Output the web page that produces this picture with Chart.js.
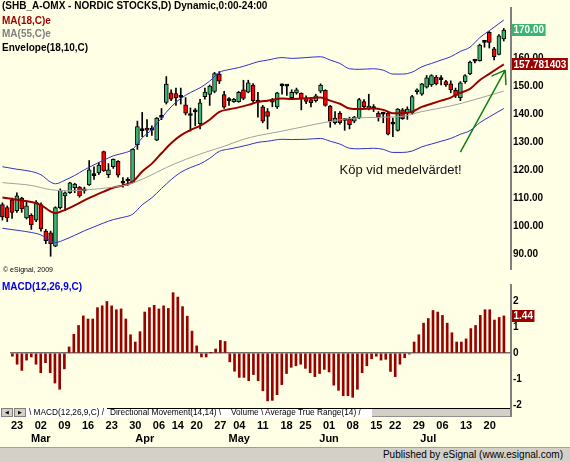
<!DOCTYPE html>
<html>
<head>
<meta charset="utf-8">
<title>SHB_A-OMX</title>
<script src="https://cdn.jsdelivr.net/npm/chart.js@4.4.1/dist/chart.umd.min.js"></script>
<style>
html, body { margin: 0; padding: 0; }
body { width: 570px; height: 462px; overflow: hidden; position: relative; background: #FFFFE6; font-family: "Liberation Sans", Arial, sans-serif; }
canvas { position: absolute; left: 0; }
#priceChart { top: 0; }
#macdChart { top: 277px; }
.lbl { position: absolute; left: 2px; white-space: nowrap; font-size: 10px; font-weight: bold; line-height: 12px; z-index: 2; }
#copy { position: absolute; left: 3px; top: 266px; font-size: 7px; line-height: 8px; z-index: 2; white-space: nowrap; }
#tabs { position: absolute; left: 0; top: 408px; width: 511px; height: 9px; background: #FFFFFF; z-index: 3; font-size: 8.3px; line-height: 9px; }
#tabs span { position: absolute; top: 0; white-space: nowrap; }
#tabs .btn { width: 12px; height: 9px; box-sizing: border-box; background: #D4D0C8; border: 1px solid #808080; font-family: "DejaVu Sans"; font-size: 5px; line-height: 7px; text-align: center; }
#tabs .topline { top: 0; height: 0; border-top: 1px solid #000; }
#tabs .fill { height: 9px; box-sizing: border-box; background: #D4D0C8; border-top: 1px solid #000; border-bottom: 1px solid #909090; }
#axisStub { position: absolute; left: 510px; top: 405px; width: 2px; height: 12px; background: #808080; z-index: 4; }
#status { position: absolute; left: 0; top: 447px; width: 570px; height: 15px; box-sizing: border-box; background: #D4D0C8; border-top: 1px solid #A0A0A0; font-size: 10px; line-height: 14px; text-align: right; padding-right: 7px; z-index: 3; }
</style>
</head>
<body>
<canvas id="priceChart" width="570" height="277"></canvas>
<canvas id="macdChart" width="570" height="170"></canvas>

<div class="lbl" style="top:0px;color:#000">(SHB_A-OMX - NORDIC STOCKS,D) Dynamic,0:00-24:00</div>
<div class="lbl" style="top:14.5px;color:#990000">MA(18,C)e</div>
<div class="lbl" style="top:28px;color:#808080">MA(55,C)e</div>
<div class="lbl" style="top:41.5px;color:#000">Envelope(18,10,C)</div>
<div id="copy">© eSignal, 2009</div>
<div class="lbl" style="top:281px;color:#0000E6">MACD(12,26,9,C)</div>

<div id="tabs">
  <span class="btn" style="left:1px">◀</span>
  <span class="btn" style="left:14px">▶</span>
  <span style="left:29px">\ MACD(12,26,9,C) /</span>
  <span class="topline" style="left:107px;width:265px"></span>
  <span style="left:110px">Directional Movement(14,14) \</span>
  <span style="left:231px">Volume \</span>
  <span style="left:265px">Average True Range(14) /</span>
  <span class="fill" style="left:372px;width:139px"></span>
</div>
<div id="axisStub"></div>
<div id="status">Published by eSignal (www.esignal.com)</div>

<script>
// handelsdagar feb-jul 2009
const dates = [
  '02-20','02-23','02-24','02-25','02-26','02-27',
  '03-02','03-03','03-04','03-05','03-06',
  '03-09','03-10','03-11','03-12','03-13',
  '03-16','03-17','03-18','03-19','03-20',
  '03-23','03-24','03-25','03-26','03-27',
  '03-30','03-31','04-01','04-02','04-03',
  '04-06','04-07','04-08','04-09',
  '04-14','04-15','04-16','04-17',
  '04-20','04-21','04-22','04-23','04-24',
  '04-27','04-28','04-29','04-30',
  '05-04','05-05','05-06','05-07','05-08',
  '05-11','05-12','05-13','05-14','05-15',
  '05-18','05-19','05-20','05-22',
  '05-25','05-26','05-27','05-28','05-29',
  '06-01','06-02','06-03','06-04','06-05',
  '06-08','06-09','06-10','06-11','06-12',
  '06-15','06-16','06-17','06-18',
  '06-22','06-23','06-24','06-25','06-26',
  '06-29','06-30','07-01','07-02','07-03',
  '07-06','07-07','07-08','07-09','07-10',
  '07-13','07-14','07-15','07-16','07-17',
  '07-20','07-21','07-22','07-23'
];

const opens = [107.7,106.6,109.4,105.5,110.0,102.9,103.8,102.1,107.7,98.2,
  97.6,92.8,106.6,110.8,111.9,113.7,113.9,113.2,114.7,118.0,
  119.0,126.6,118.4,121.2,123.1,115.3,116.1,115.6,129.1,134.1,
  135.0,134.3,130.7,138.8,144.2,147.6,147.3,146.0,143.3,139.5,
  140.8,136.6,146.2,147.0,148.1,154.3,147.0,144.8,144.4,144.4,
  148.7,147.8,150.4,144.3,142.6,140.9,145.2,142.6,150.1,150.0,
  145.9,147.6,147.4,145.8,145.2,144.8,148.2,148.5,142.9,136.9,
  140.3,137.7,138.4,137.5,138.6,144.5,142.0,142.0,140.3,140.0,
  140.3,136.4,134.2,141.5,140.3,140.3,148.0,147.1,149.6,150.4,
  153.2,152.3,151.6,150.8,148.5,145.9,151.6,154.4,158.9,159.1,
  165.6,169.2,163.3,161.3,166.9];
const highs = [108.3,107.2,110.0,111.9,110.3,108.5,104.4,109.1,108.3,98.8,
  98.2,106.9,113.3,112.2,115.6,115.3,114.1,113.9,123.4,121.2,
  122.7,126.8,122.3,124.0,123.4,117.3,117.3,127.6,137.5,140.6,
  138.0,135.8,138.8,142.0,153.4,148.7,149.3,149.3,145.9,142.2,
  142.0,145.3,149.3,150.4,154.9,155.2,148.1,145.9,145.6,148.1,
  152.1,152.1,150.9,147.8,143.1,142.0,145.6,147.8,150.8,150.4,
  148.7,149.3,147.6,146.5,145.9,147.1,150.8,148.7,143.1,140.9,
  140.9,138.4,138.9,139.2,145.6,145.2,147.1,143.4,140.9,140.7,
  140.9,138.6,142.0,142.0,142.6,146.7,149.0,151.0,153.8,154.1,
  153.8,153.8,152.1,151.9,149.3,151.6,154.1,158.9,159.4,165.0,
  166.1,169.5,163.9,168.4,170.6];
const lows = [102.1,101.6,102.7,104.9,104.9,102.5,98.8,101.6,98.2,93.7,
  89.2,92.6,106.1,105.5,111.7,111.9,110.3,111.7,114.5,116.7,
  118.4,119.5,117.3,120.6,117.5,113.9,114.5,115.4,127.4,131.9,
  131.9,132.4,130.5,138.0,143.6,144.8,143.1,143.6,139.7,133.9,
  135.8,134.7,145.3,143.1,147.6,150.9,142.0,143.1,144.2,144.2,
  145.1,147.6,144.2,138.9,136.9,134.7,142.6,142.0,147.1,146.7,
  145.4,147.1,141.5,143.7,142.6,144.3,147.6,142.8,135.3,136.4,
  136.4,134.2,134.7,136.9,138.4,142.0,141.5,140.9,137.5,136.9,
  132.6,131.9,133.9,138.1,138.1,140.0,147.1,146.7,149.3,149.9,
  150.4,150.4,149.9,147.6,145.9,144.8,151.0,154.1,158.3,158.9,
  163.9,163.6,159.4,161.1,166.1];
const closes = [103.3,102.9,104.9,110.8,106.1,107.2,100.4,108.6,99.0,94.8,
  93.7,106.6,112.8,111.9,115.4,115.0,110.8,112.6,120.1,118.0,
  121.8,119.7,120.1,123.8,118.2,115.3,116.1,127.4,135.5,134.1,
  134.3,134.3,138.6,138.8,150.7,145.3,145.9,146.0,140.3,139.5,
  140.8,144.0,147.9,150.0,154.5,151.8,142.5,144.8,145.3,147.8,
  145.6,151.2,144.8,144.3,137.5,139.2,144.3,147.6,150.1,150.0,
  147.8,148.7,145.6,144.5,144.1,146.5,150.4,143.1,137.5,138.6,
  136.9,137.7,136.2,138.9,145.2,142.6,142.9,142.0,138.9,140.0,
  132.8,136.4,141.8,138.4,141.8,146.3,148.3,150.8,153.0,153.8,
  150.8,152.3,150.4,148.7,146.7,151.2,153.8,158.6,158.9,164.7,
  165.6,165.6,160.5,168.0,170.0];

// avlästa punkter [dagindex, värde]
const ma18Pts = [[0,110.2],[3,109.4],[6,108.6],[8,107.5],[10,105.2],[11,104.6],[13,105.8],[15,107.4],[17,109.2],[19,110.8],
  [21,112.3],[23,113.7],[25,114.5],[27,115.8],[29,119.5],[31,122.3],[33,126.0],[35,129.6],[37,132.4],[39,134.3],
  [41,135.8],[43,138.0],[45,140.8],[47,141.7],[49,142.4],[51,143.3],[53,144.3],[55,144.8],[58,145.6],[60,145.4],
  [63,145.6],[66,145.9],[68,144.8],[70,143.7],[72,142.0],[74,141.8],[77,142.0],[79,141.5],[81,140.3],[83,140.3],
  [85,140.9],[87,142.6],[89,143.7],[91,144.8],[93,145.9],[95,147.6],[97,149.0],[99,152.1],[101,154.4],[104,157.781403]];
const ma55Pts = [[0,115.5],[6,114.5],[10,113.0],[14,112.6],[18,113.0],[22,113.7],[26,114.8],[30,117.5],[34,120.9],
  [38,123.8],[42,126.3],[46,128.5],[50,131.0],[53,132.3],[58,133.9],[65,136.4],[72,138.4],[79,138.9],[83,139.2],
  [87,140.9],[93,142.9],[98,145.2],[104,148.2]];
const envUpPts = [[0,121.2],[3,120.3],[6,119.5],[8,118.3],[10,115.7],[11,115.1],[13,116.4],[15,118.1],[17,120.1],[19,121.9],
  [21,123.5],[23,125.1],[25,126.0],[27,127.4],[29,131.5],[31,134.5],[33,138.6],[35,142.6],[37,145.6],[39,147.7],
  [41,149.4],[43,151.8],[45,154.9],[47,155.9],[49,156.6],[51,157.6],[53,158.7],[55,159.3],[58,160.2],[60,159.9],
  [63,160.2],[66,160.5],[68,159.3],[70,158.1],[72,156.2],[74,156.0],[77,156.2],[79,155.7],[81,154.3],[83,154.3],
  [85,155.0],[87,156.9],[89,158.1],[91,159.3],[93,160.5],[95,162.4],[97,163.9],[99,167.3],[101,169.8],[104,173.6]];
const envLoPts = [[0,99.2],[3,98.5],[6,97.7],[8,96.8],[10,94.7],[11,94.1],[13,95.2],[15,96.7],[17,98.3],[19,99.7],
  [21,101.1],[23,102.3],[25,103.1],[27,104.2],[29,107.6],[31,110.1],[33,113.4],[35,116.6],[37,119.2],[39,120.9],
  [41,122.2],[43,124.2],[45,126.7],[47,127.5],[49,128.2],[51,129.0],[53,129.9],[55,130.3],[58,131.0],[60,130.9],
  [63,131.0],[66,131.3],[68,130.3],[70,129.3],[72,127.8],[74,127.6],[77,127.8],[79,127.4],[81,126.3],[83,126.3],
  [85,126.8],[87,128.3],[89,129.3],[91,130.3],[93,131.3],[95,132.8],[97,134.1],[99,136.9],[101,139.0],[104,142.0]];

const macdHist = [-0.12,-0.43,-0.67,-0.27,-0.15,-0.43,-0.76,-0.37,-0.76,-1.16,
  -1.40,-0.61,0.24,0.73,1.07,1.44,1.32,1.32,1.76,1.83,
  2.00,1.83,1.68,1.71,1.32,0.71,0.43,0.83,1.59,1.76,
  1.85,1.71,1.83,1.73,2.34,2.17,1.80,1.43,0.85,0.28,
  -0.15,-0.15,0.01,0.16,0.49,0.45,-0.34,-0.70,-0.94,-0.94,
  -1.07,-0.83,-1.07,-1.46,-1.85,-1.83,-1.61,-1.22,-0.79,-0.55,
  -0.49,-0.43,-0.59,-0.76,-0.91,-0.79,-0.63,-0.73,-1.24,-1.44,
  -1.65,-1.65,-1.71,-1.40,-0.76,-0.49,-0.22,-0.12,-0.27,-0.24,
  -0.71,-0.91,-0.43,-0.18,-0.04,0.43,0.71,1.16,1.34,1.65,
  1.59,1.46,1.16,0.79,0.43,0.43,0.55,0.95,1.07,1.46,
  1.68,1.68,1.28,1.38,1.44];

const priceTicks = [90, 100, 110, 120, 130, 140, 150, 160, 170];
const macdTicks = [-2, -1, 0, 1, 2];
const weekTicks = [1,6,11,16,21,26,31,35,39,44,48,53,58,62,67,72,77,81,86,91,96,101];
const monthTicks = [[6,'Mar'],[28,'Apr'],[48,'May'],[67,'Jun'],[88,'Jul']];

const noteText = 'Köp vid medelvärdet!';
const noteAt = [82.6, 120.0];
const arrowFrom = [95.0, 126.4];
const arrowTo = [104.3, 155.7];

// en tom plats efter sista stapeln
const slots = dates.concat(['']);

const GREEN = '#3CB371';
const DARKRED = '#990000';
const FONT = '"Liberation Sans", Arial, sans-serif';
Chart.defaults.font.family = FONT;

function lineData(pts) {
    const arr = new Array(slots.length).fill(null);
    pts.forEach(([i, v]) => { arr[i] = v; });
    return arr;
}

function xTickLabel(i) {
    const day = weekTicks.includes(i) ? dates[i].slice(3) : '';
    const m = monthTicks.find(t => t[0] === i);
    if (m) return [day, m[1]];
    return day || null;
}

function drawMarker(ctx, scale, value, text, bg) {
    const yy = scale.getPixelForValue(value);
    ctx.font = 'bold 10px ' + FONT;
    const w = ctx.measureText(text).width + 3;
    ctx.fillStyle = bg;
    ctx.fillRect(scale.left + 1, Math.round(yy) - 6, w, 12);
    ctx.fillStyle = '#fff';
    ctx.textAlign = 'left';
    ctx.textBaseline = 'middle';
    ctx.fillText(text, scale.left + 2.5, yy + 0.5);
}

const priceOverlay = {
    id: 'priceOverlay',
    afterDraw(chart) {
        const { ctx, scales: { x, y } } = chart;
        ctx.save();
        // pil
        const x0 = x.getPixelForValue(arrowFrom[0]), y0 = y.getPixelForValue(arrowFrom[1]);
        const x1 = x.getPixelForValue(arrowTo[0]), y1 = y.getPixelForValue(arrowTo[1]);
        const ang = Math.atan2(y0 - y1, x0 - x1);
        ctx.strokeStyle = '#108010';
        ctx.lineWidth = 1.5;
        ctx.beginPath();
        ctx.moveTo(x0, y0);
        ctx.lineTo(x1, y1);
        [0.66, -0.55].forEach(d => {
            ctx.moveTo(x1, y1);
            ctx.lineTo(x1 + 15 * Math.cos(ang + d), y1 + 15 * Math.sin(ang + d));
        });
        ctx.stroke();
        // text
        ctx.fillStyle = '#111';
        ctx.font = '13px ' + FONT;
        ctx.textAlign = 'center';
        ctx.textBaseline = 'middle';
        ctx.fillText(noteText, x.getPixelForValue(noteAt[0]), y.getPixelForValue(noteAt[1]));
        // senaste värden
        const last = ma18Pts[ma18Pts.length - 1][1];
        drawMarker(ctx, y, closes[closes.length - 1], closes[closes.length - 1].toFixed(2), GREEN);
        drawMarker(ctx, y, last, String(last), DARKRED);
        ctx.restore();
    }
};

const macdOverlay = {
    id: 'macdOverlay',
    afterDraw(chart) {
        const v = macdHist[macdHist.length - 1];
        chart.ctx.save();
        drawMarker(chart.ctx, chart.scales.y, v, v.toFixed(2), DARKRED);
        chart.ctx.restore();
    }
};

const lineStyle = { type: 'line', pointRadius: 0, spanGaps: true, cubicInterpolationMode: 'monotone', fill: false, order: 0 };
const tickFont = { family: FONT, size: 10, weight: 'bold' };

new Chart(document.getElementById('priceChart'), {
    type: 'bar',
    data: {
        labels: slots,
        datasets: [
            { ...lineStyle, label: 'Envelope upper', data: lineData(envUpPts), borderColor: '#3030C8', borderWidth: 1 },
            { ...lineStyle, label: 'Envelope lower', data: lineData(envLoPts), borderColor: '#3030C8', borderWidth: 1 },
            { ...lineStyle, label: 'MA(55,C)', data: lineData(ma55Pts), borderColor: '#A0A0A0', borderWidth: 1 },
            { ...lineStyle, label: 'MA(18,C)', data: lineData(ma18Pts), borderColor: DARKRED, borderWidth: 2 },
            {
                label: 'body',
                data: opens.map((o, i) => [o, closes[i]]),
                backgroundColor: opens.map((o, i) => closes[i] > o ? GREEN : (closes[i] < o ? '#FF0000' : '#000')),
                borderColor: '#000',
                borderWidth: 1,
                borderSkipped: false,
                barThickness: 4,
                minBarLength: 2,
                grouped: false,
                order: 1
            },
            {
                label: 'wick',
                data: lows.map((l, i) => [l, highs[i]]),
                backgroundColor: '#000',
                barThickness: 1,
                grouped: false,
                order: 2
            }
        ]
    },
    options: {
        responsive: false,
        animation: false,
        layout: { padding: 0 },
        plugins: { legend: { display: false }, tooltip: { enabled: false } },
        scales: {
            x: { display: false, offset: true },
            y: {
                position: 'right',
                min: 84.65,
                max: 177.91,
                afterFit: (a) => { a.width = 59; },
                afterBuildTicks: (a) => { a.ticks = priceTicks.map(v => ({ value: v })); },
                grid: { display: false, drawTicks: false },
                border: { display: true, color: '#808080', width: 2 },
                ticks: { color: '#000', font: tickFont, padding: 2, callback: (v) => v.toFixed(2) }
            }
        }
    },
    plugins: [priceOverlay]
});

new Chart(document.getElementById('macdChart'), {
    type: 'bar',
    data: {
        labels: slots,
        datasets: [{
            label: 'MACD(12,26,9,C)',
            data: macdHist,
            backgroundColor: DARKRED,
            barThickness: 2
        }]
    },
    options: {
        responsive: false,
        animation: false,
        layout: { padding: { top: 1 } },
        plugins: { legend: { display: false }, tooltip: { enabled: false } },
        scales: {
            x: {
                offset: true,
                afterFit: (a) => { a.height = 39; },
                grid: { display: false, drawTicks: false },
                border: { display: false },
                ticks: {
                    autoSkip: false,
                    maxRotation: 0,
                    padding: 11,
                    color: '#000',
                    font: { family: FONT, size: 11, weight: 'bold' },
                    callback: (v) => xTickLabel(v)
                }
            },
            y: {
                position: 'right',
                min: -2.125,
                max: 2.637,
                afterFit: (a) => { a.width = 59; },
                afterBuildTicks: (a) => { a.ticks = macdTicks.map(v => ({ value: v })); },
                grid: {
                    drawTicks: false,
                    lineWidth: 1.5,
                    color: (ctx) => (ctx.tick && ctx.tick.value === 0) ? '#707070' : 'rgba(0,0,0,0)'
                },
                border: { display: true, color: '#808080', width: 2 },
                ticks: { color: '#000', font: tickFont, padding: 2, callback: (v) => String(v) }
            }
        }
    },
    plugins: [macdOverlay]
});
</script>
</body>
</html>
